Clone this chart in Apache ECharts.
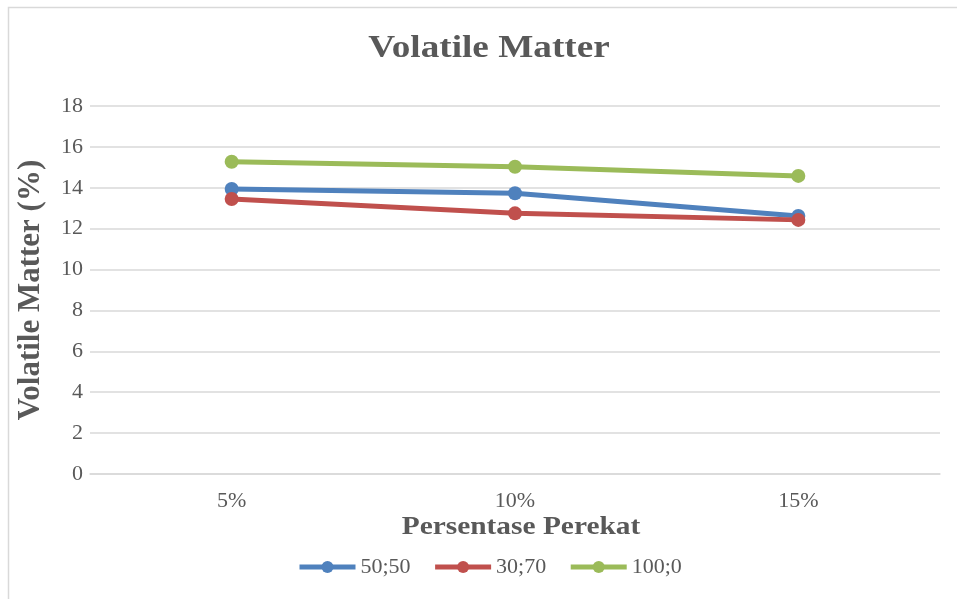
<!DOCTYPE html>
<html>
<head>
<meta charset="utf-8">
<script src="https://cdn.jsdelivr.net/npm/echarts@6/dist/echarts.min.js"></script>
<style>
  html, body { margin: 0; padding: 0; background: #fff; }
  #chart { width: 957px; height: 599px; }
</style>
</head>
<body>
<div id="chart"></div>
<script>
// Binder percentage categories and volatile matter (%) per blend ratio
const categories = ['5%', '10%', '15%'];
const seriesNames = ['50;50', '30;70', '100;0'];
const blend5050 = [13.94, 13.73, 12.62];
const blend3070 = [13.45, 12.75, 12.43];
const blend1000 = [15.27, 15.03, 14.58];
const yTicks = [0, 2, 4, 6, 8, 10, 12, 14, 16, 18];

const chartTitle = 'Volatile Matter';
const xAxisTitle = 'Persentase Perekat';
const yAxisTitle = 'Volatile Matter (%)';

const colors = ['#4F81BD', '#C0504D', '#9BBB59'];
const serif = '"Liberation Serif", "Times New Roman", serif';
const textGray = '#595959';

const chart = echarts.init(document.getElementById('chart'));

const makeSeries = (name, data, color) => ({
  name: name,
  type: 'line',
  data: data,
  symbol: 'circle',
  symbolSize: 14,
  lineStyle: { width: 5, color: color },
  itemStyle: { color: color },
  emphasis: { disabled: true }
});

// Wide bold serif heading text
const wideText = (text, x, y, size) => ({
  type: 'text',
  x: x,
  y: y,
  scaleX: 1.2,
  silent: true,
  style: {
    text: text,
    fontFamily: serif,
    fontSize: size,
    fontWeight: 'bold',
    fill: textGray,
    align: 'center',
    verticalAlign: 'middle'
  }
});

chart.setOption({
  animation: false,
  color: colors,
  graphic: [
    {
      type: 'rect',
      shape: { x: 8.5, y: 7.5, width: 1000, height: 700 },
      style: { fill: 'none', stroke: '#d9d9d9', lineWidth: 1.5 },
      silent: true,
      z: -1
    },
    wideText(chartTitle, 489, 49, 31),
    wideText(xAxisTitle, 521, 528, 24.5)
  ],
  legend: {
    bottom: 16,
    left: 292,
    itemWidth: 56,
    itemHeight: 15,
    itemGap: 22,
    data: seriesNames,
    lineStyle: { width: 5 },
    textStyle: { fontFamily: serif, fontSize: 22, color: textGray }
  },
  grid: { left: 90, right: 17, top: 106, bottom: 125, containLabel: false, outerBoundsMode: 'none' },
  xAxis: {
    type: 'category',
    data: categories,
    boundaryGap: true,
    axisLine: { show: true, lineStyle: { color: '#d9d9d9', width: 1.5 } },
    axisTick: { show: false },
    axisLabel: { fontFamily: serif, fontSize: 22, color: textGray, margin: 16 }
  },
  yAxis: {
    type: 'value',
    min: yTicks[0],
    max: yTicks[yTicks.length - 1],
    interval: 2,
    name: yAxisTitle,
    nameLocation: 'middle',
    nameGap: 44,
    nameMoveOverlap: false,
    nameTextStyle: { fontFamily: serif, fontSize: 31, fontWeight: 'bold', color: textGray },
    axisLine: { show: false },
    axisTick: { show: false },
    axisLabel: { fontFamily: serif, fontSize: 22, color: textGray, margin: 7 },
    splitLine: { lineStyle: { color: '#d9d9d9', width: 1.5 } }
  },
  series: [
    makeSeries(seriesNames[0], blend5050, colors[0]),
    makeSeries(seriesNames[1], blend3070, colors[1]),
    makeSeries(seriesNames[2], blend1000, colors[2])
  ]
});
</script>
</body>
</html>
